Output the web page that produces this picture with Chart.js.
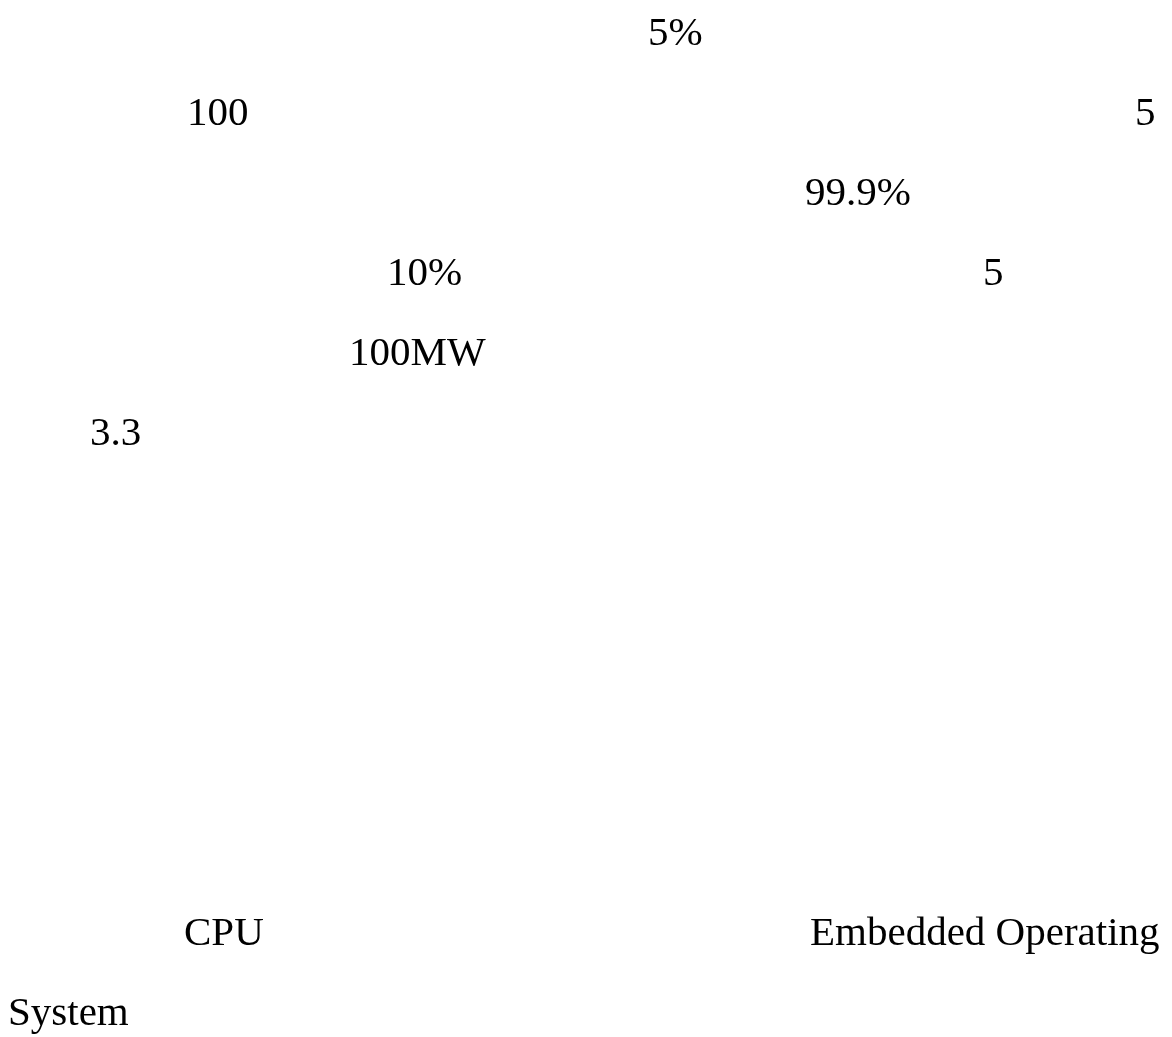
<!DOCTYPE html>
<html>
<head>
<meta charset="utf-8">
<script src="https://cdn.jsdelivr.net/npm/chart.js@4/dist/chart.umd.min.js"></script>
<style>
html, body { margin: 0; padding: 0; background: #ffffff; }
#wrap { width: 1172px; height: 1037px; }
</style>
</head>
<body>
<div id="wrap"><canvas id="textChart" width="1172" height="1037"></canvas></div>
<script>
// text fragments left on the page, with their column and line
var words = ['5%', '100', '5', '99.9%', '10%', '5', '100MW', '3.3', 'CPU', 'Embedded Operating', 'System'];
var wordCol = [648, 187, 1135, 805, 387, 983, 349, 90, 184, 810, 8];
var wordLine = [0, 1, 1, 2, 3, 3, 4, 5, 11.25, 11.25, 12.25];

var points = [];
for (var i = 0; i < words.length; i++) {
    points.push({ x: wordCol[i], y: wordLine[i], label: words[i] });
}

// draw each label at its point
var wordLabels = {
    id: 'wordLabels',
    afterDatasetsDraw: function (chart) {
        var ctx = chart.ctx;
        var meta = chart.getDatasetMeta(0);
        ctx.save();
        ctx.fillStyle = '#000000';
        ctx.font = '41px "Liberation Serif", "Times New Roman", serif';
        ctx.textAlign = 'left';
        ctx.textBaseline = 'alphabetic';
        meta.data.forEach(function (pt, idx) {
            ctx.fillText(points[idx].label, pt.x, pt.y);
        });
        ctx.restore();
    }
};

var textChart = new Chart(document.getElementById('textChart'), {
    type: 'scatter',
    data: {
        datasets: [{
            data: points,
            pointRadius: 0,
            pointHoverRadius: 0,
            showLine: false
        }]
    },
    options: {
        responsive: false,
        animation: false,
        layout: { padding: 0 },
        plugins: {
            legend: { display: false },
            tooltip: { enabled: false }
        },
        scales: {
            x: {
                type: 'linear',
                display: false,
                min: 0,
                max: 1172
            },
            y: {
                type: 'linear',
                display: false,
                reverse: true,
                min: -0.5625,
                max: 12.4
            }
        }
    },
    plugins: [wordLabels]
});
</script>
</body>
</html>
